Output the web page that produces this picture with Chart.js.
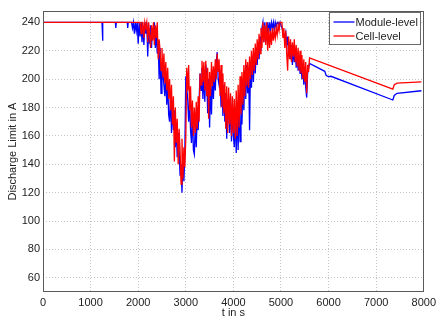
<!DOCTYPE html>
<html>
<head>
<meta charset="utf-8">
<script src="https://cdn.jsdelivr.net/npm/chart.js@4/dist/chart.umd.min.js"></script>
<style>
  html, body { margin: 0; padding: 0; background: #fff; }
  canvas { display: block; }
</style>
</head>
<body>
<canvas id="limitChart" width="440" height="318"></canvas>
<script>
const xTicks = [0, 1000, 2000, 3000, 4000, 5000, 6000, 7000, 8000];
const yTicks = [60, 80, 100, 120, 140, 160, 180, 200, 220, 240];
const seriesNames = ['Module-level', 'Cell-level'];

// flat start, module-level has a few isolated dips
const moduleStartT = [0, 1240, 1250, 1260, 1520, 1530, 1540, 1770, 1780, 1790];
const moduleStartV = [240, 240, 227, 240, 240, 236, 240, 240, 236, 240];
const cellStartT = [0];
const cellStartV = [240];

// dense drive-cycle part, one sample every 20 s from 1800 s to 5600 s
const denseStart = 1800;
const denseStep = 20;
const moduleDense = [
  240,240,240,240,236,240,232,240,234,240,
  225,240,230,240,226,238,224,240,232,240,
  216,236,225,238,222,236,228,240,222,234,
  218,226,200,222,190,212,204,196,188,204,
  182,198,175,170,190,162,185,164,178,152,
  166,145,162,150,132,140,120,145,128,148,
  202,194,186,170,186,164,155,176,150,147,
  170,152,176,164,185,204,192,208,186,205,
  184,210,203,176,200,166,196,175,205,186,
  204,192,212,219,200,196,206,181,200,174,
  196,170,190,158,185,176,162,188,156,182,
  160,152,176,148,180,150,186,156,194,168,
  200,178,206,186,210,190,208,164,212,194,
  216,198,218,204,222,210,226,214,230,220,
  236,240,226,240,230,228,240,232,240,234,
  240,236,240,234,240,237,240,240,238,240,
  240,236,234,232,230,233,224,230,218,226,
  214,224,210,222,212,220,208,218,206,216,
  204,214,200,210,196,206,194,187,204,208,
  211
];
const cellDense = [
  240,240,240,240,240,240,240,240,240,240,
  240,240,240,232,240,240,229,240,236,240,
  226,240,231,222,238,227,240,224,238,229,
  240,214,228,220,206,222,201,218,197,212,
  192,208,186,200,178,196,168,188,142,180,
  155,172,140,165,150,126,158,130,152,138,
  158,208,192,210,178,195,166,185,160,180,
  162,184,165,188,170,204,196,213,198,212,
  192,213,188,208,172,205,188,212,195,209,
  198,214,200,218,205,214,188,210,180,204,
  176,198,165,195,162,194,168,190,160,188,
  162,186,158,192,160,196,166,202,175,205,
  182,210,188,214,195,212,194,216,200,220,
  203,222,206,225,210,228,214,232,218,236,
  222,240,226,238,224,240,220,236,222,234,
  224,236,227,234,229,236,231,238,234,240,
  240,240,229,236,222,234,218,206,230,214,
  228,212,226,216,228,212,224,209,222,206,
  220,204,217,200,214,198,212,190,210,205,
  215
];

// smooth tail after the cycle ends
const moduleTailT = [5920, 5950, 6000, 6050, 7350, 7380, 7440, 7950];
const moduleTailV = [205.5, 202.5, 201.8, 202, 185.3, 188.5, 190, 191.8];
const cellTailT = [7350, 7380, 7440, 7950];
const cellTailV = [193, 196, 197.2, 198];

function buildPoints(startT, startV, dense, tailT, tailV) {
  const pts = startT.map((t, i) => ({ x: t, y: startV[i] }));
  dense.forEach((v, i) => pts.push({ x: denseStart + i * denseStep, y: v }));
  tailT.forEach((t, i) => pts.push({ x: t, y: tailV[i] }));
  return pts;
}

const FONT = "'Liberation Sans', Arial, sans-serif";
const colors = ['#0000ff', '#ff0000'];

// axes box + matlab-like legend inside the plot
const boxAndLegend = {
  id: 'boxAndLegend',
  afterDatasetsDraw(chart) {
    const { ctx, chartArea: a } = chart;
    ctx.save();
    ctx.strokeStyle = '#5a5a5a';
    ctx.lineWidth = 1;
    ctx.strokeRect(Math.round(a.left) + 0.5, Math.round(a.top) + 0.5,
      Math.round(a.right - a.left) - 1, Math.round(a.bottom - a.top) - 1);

    const bx = Math.round(a.right) - 94.5, by = Math.round(a.top) + 1.5;
    ctx.fillStyle = '#fff';
    ctx.fillRect(bx, by, 91, 32);
    ctx.strokeStyle = '#6a6a6a';
    ctx.strokeRect(bx, by, 91, 32);
    ctx.font = '11px ' + FONT;
    ctx.textBaseline = 'middle';
    seriesNames.forEach((name, i) => {
      const y = by + 9.5 + i * 14;
      ctx.strokeStyle = colors[i];
      ctx.lineWidth = 1.3;
      ctx.beginPath();
      ctx.moveTo(bx + 4, y);
      ctx.lineTo(bx + 25, y);
      ctx.stroke();
      ctx.fillStyle = '#222';
      ctx.fillText(name, bx + 26, y + 0.5);
    });
    ctx.restore();
  }
};

new Chart(document.getElementById('limitChart').getContext('2d'), {
  type: 'line',
  data: {
    datasets: [
      {
        label: seriesNames[0],
        data: buildPoints(moduleStartT, moduleStartV, moduleDense, moduleTailT, moduleTailV),
        borderColor: colors[0],
        borderWidth: 1.3,
        pointRadius: 0,
        tension: 0,
        order: 2
      },
      {
        label: seriesNames[1],
        data: buildPoints(cellStartT, cellStartV, cellDense, cellTailT, cellTailV),
        borderColor: colors[1],
        borderWidth: 1.3,
        pointRadius: 0,
        tension: 0,
        order: 1
      }
    ]
  },
  options: {
    responsive: false,
    animation: false,
    layout: { padding: { top: 11, right: 13, left: 0, bottom: 0 } },
    plugins: {
      legend: { display: false },
      tooltip: { enabled: false }
    },
    scales: {
      x: {
        type: 'linear',
        min: 0,
        max: 8000,
        afterBuildTicks: s => { s.ticks = xTicks.map(v => ({ value: v })); },
        afterFit: s => { s.height = 26; },
        grid: { color: '#c4c4c4', drawTicks: false },
        border: { display: false, dash: [1, 2] },
        ticks: { color: '#222', padding: 4, maxRotation: 0, font: { family: FONT, size: 11 }, callback: v => String(v) },
        title: { display: true, text: 't in s', color: '#222', padding: 0, font: { family: FONT, size: 11, lineHeight: 1 } }
      },
      y: {
        min: 50,
        max: 248,
        afterBuildTicks: s => { s.ticks = yTicks.map(v => ({ value: v })); },
        afterFit: s => { s.width = 43; },
        grid: { color: '#c4c4c4', drawTicks: false },
        border: { display: false, dash: [1, 2] },
        ticks: { color: '#222', padding: 3, font: { family: FONT, size: 11 }, callback: v => String(v) },
        title: { display: true, text: 'Discharge Limit in A', color: '#222', padding: { top: 6, bottom: 0 }, font: { family: FONT, size: 11 } }
      }
    }
  },
  plugins: [boxAndLegend]
});
</script>
</body>
</html>
